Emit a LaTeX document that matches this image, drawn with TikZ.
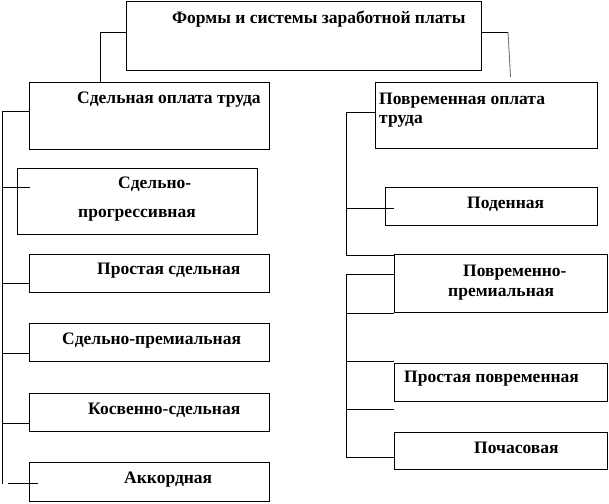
\documentclass[tikz,border=0pt]{standalone}
\usepackage{fontspec}
\setmainfont{Liberation Serif}
\begin{document}
\begin{tikzpicture}[x=1pt,y=-1pt,
  box/.style={draw, line width=0.9pt, rectangle, inner sep=0pt, anchor=north west},
  lbl/.style={inner sep=0pt, anchor=west, font=\fontsize{17.5}{19}\selectfont\bfseries},
  conn/.style={line width=0.9pt}]
\useasboundingbox (0,0) rectangle (609,503);
% boxes
\node[box, minimum width=355pt, minimum height=68pt] (top) at (126,1.5) {};
\node[box, minimum width=240pt, minimum height=67pt] (sd) at (29,82) {};
\node[box, minimum width=240pt, minimum height=66pt] (sp) at (17,168) {};
\node[box, minimum width=240pt, minimum height=38pt] (ps) at (29,254) {};
\node[box, minimum width=240pt, minimum height=38pt] (spr) at (29,323) {};
\node[box, minimum width=240pt, minimum height=38pt] (ks) at (29,393) {};
\node[box, minimum width=240pt, minimum height=39pt] (ak) at (29,462) {};
\node[box, minimum width=222pt, minimum height=66pt] (pv) at (375,82) {};
\node[box, minimum width=212pt, minimum height=38pt] (pd) at (385,187) {};
\node[box, minimum width=213pt, minimum height=58pt] (ppr) at (394,254) {};
\node[box, minimum width=213pt, minimum height=38pt] (pp) at (394,363) {};
\node[box, minimum width=213pt, minimum height=37pt] (pc) at (394,432) {};
% texts
\node[lbl] (ttop) at (172,19) {Формы и системы заработной платы};
\node[lbl] (tsd) at (77,100) {Сдельная оплата труда};
\node[lbl] (tsp1) at (118,184) {Сдельно-};
\node[lbl] (tsp2) at (78,215) {прогрессивная};
\node[lbl] (tps) at (97,271) {Простая сдельная};
\node[lbl] (tspr) at (62,341) {Сдельно-премиальная};
\node[lbl] (tks) at (88,410) {Косвенно-сдельная};
\node[lbl] (tak) at (124,480) {Аккордная};
\node[lbl] (tpv1) at (379,101) {Повременная оплата};
\node[lbl] (tpv2) at (379,121) {труда};
\node[lbl] (tpd) at (467,204) {Поденная};
\node[lbl] (tppr1) at (463,273) {Повременно-};
\node[lbl] (tppr2) at (448,294) {премиальная};
\node[lbl] (tpp) at (404,379) {Простая повременная};
\node[lbl] (tpc) at (474,448) {Почасовая};
% top connectors
\coordinate (tl) at (100,32);
\coordinate (tr) at (508,32);
\coordinate (trb) at (510.5,77);
\draw[conn] (top.west |- tl) -- (tl) -- (tl |- sd.north);
\draw[conn] (top.east |- tr) -- (tr);
\draw[line width=0.9pt, black!55] (tr) -- (trb);
% left trunk
\coordinate (lt) at (2.5,111);
\coordinate (lb) at (2.5,484);
\coordinate (l2) at (2.5,187);
\coordinate (l2e) at (30,187);
\coordinate (l3) at (2.5,283);
\coordinate (l4) at (2.5,353);
\coordinate (l5) at (2.5,423);
\coordinate (l6s) at (8,483);
\coordinate (l6e) at (38,483);
\draw[conn] (lb) -- (lt) -- (sd.west |- lt);
\draw[conn] (l2) -- (l2e);
\draw[conn] (l3) -- (ps.west |- l3);
\draw[conn] (l4) -- (spr.west |- l4);
\draw[conn] (l5) -- (ks.west |- l5);
\draw[conn] (l6s) -- (l6e);
% right trunk 1
\coordinate (r1t) at (346,112);
\coordinate (r1b) at (346,255);
\coordinate (r1m) at (346,208);
\coordinate (r1me) at (394,208);
\draw[conn] (pv.west |- r1t) -- (r1t) -- (r1b) -- (ppr.west |- r1b);
\draw[conn] (r1m) -- (r1me);
% right trunk 2
\coordinate (r2t) at (346,274);
\coordinate (r2a) at (346,313);
\coordinate (r2b) at (346,361);
\coordinate (r2c) at (346,409);
\coordinate (r2ce) at (394,409);
\coordinate (r2d) at (346,457);
\draw[conn] (ppr.west |- r2t) -- (r2t) -- (r2d) -- (pc.west |- r2d);
\draw[conn] (r2a) -- (ppr.west |- r2a);
\draw[conn] (r2b) -- (pp.west |- r2b);
\draw[conn] (r2c) -- (r2ce);
\end{tikzpicture}
\end{document}
